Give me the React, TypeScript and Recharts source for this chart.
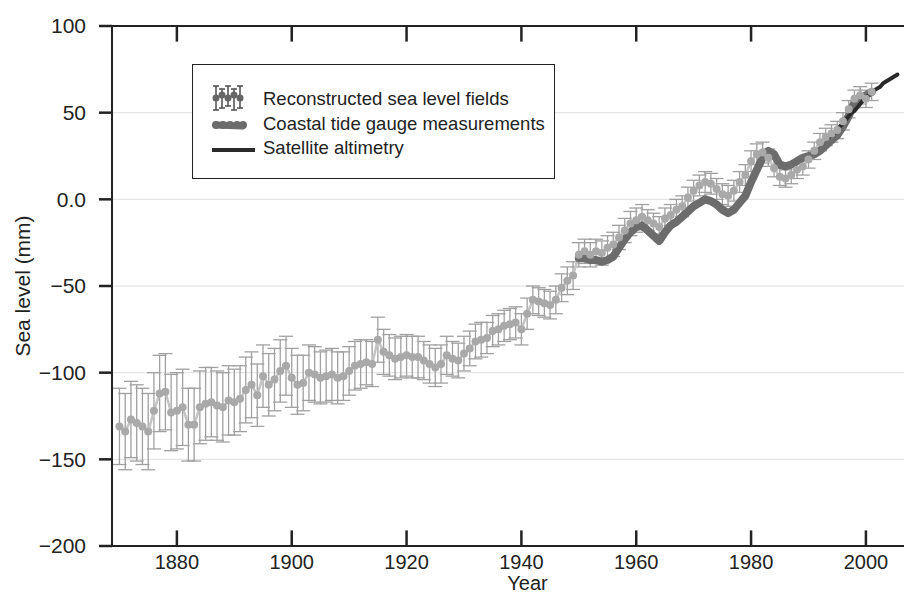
import { ComposedChart, Line, XAxis, YAxis, CartesianGrid, ErrorBar, Legend, ReferenceLine } from 'recharts'

// Reconstructed sea level fields, one value per year from 1870 (mm)
const recStart = 1870
const recValues = [
  -131, -134, -127, -129, -131, -134, -122, -112, -111, -123,
  -122, -120, -130, -130, -120, -118, -117, -119, -120, -116,
  -117, -115, -110, -107, -113, -102, -107, -104, -99, -96,
  -103, -107, -106, -100, -101, -103, -102, -101, -103, -102,
  -99, -96, -95, -94, -95, -81, -88, -90, -92, -91,
  -90, -91, -91, -93, -95, -97, -95, -90, -92, -93,
  -89, -86, -82, -81, -80, -76, -75, -73, -72, -71,
  -75, -66, -58, -59, -60, -61, -58, -51, -47, -44,
  -32, -30, -32, -30, -31, -28, -26, -22, -18, -14,
  -12, -10, -12, -14, -16, -11, -9, -6, -4, 1,
  5, 8, 10, 9, 6, 3, 2, 5, 10, 14,
  22, 26, 27, 24, 18, 13, 12, 14, 17, 19,
  23, 28, 33, 36, 38, 40, 45, 52, 58, 60,
  58, 62,
]
// half width of the error bars (mm)
const recErrors = [
  22, 22, 22, 22, 22, 22, 22, 22, 22, 22,
  22, 22, 21, 21, 21, 21, 20, 20, 20, 20,
  19, 19, 19, 19, 18, 18, 18, 18, 18, 17,
  17, 17, 16, 16, 16, 15, 15, 15, 15, 14,
  14, 14, 14, 13, 13, 13, 13, 12, 12, 12,
  12, 12, 12, 11, 11, 11, 11, 11, 10, 10,
  10, 10, 10, 10, 9, 9, 9, 9, 9, 9,
  9, 9, 8, 8, 8, 8, 8, 8, 8, 8,
  7, 7, 7, 7, 7, 7, 7, 7, 7, 7,
  7, 7, 6, 6, 6, 6, 6, 6, 6, 6,
  6, 6, 6, 6, 6, 6, 6, 6, 6, 6,
  6, 6, 6, 5, 5, 5, 5, 5, 5, 5,
  5, 5, 5, 5, 5, 5, 5, 5, 5, 5,
  5, 5,
]

// Coastal tide gauge measurements, yearly from 1950 (mm)
const gaugeStart = 1950
const gaugeValues = [
  -34, -34, -35, -35, -36, -35, -33, -28, -23, -19,
  -16, -15, -18, -21, -24, -19, -15, -13, -10, -7,
  -4, -2, 0, -1, -3, -6, -8, -6, -2, 2,
  10, 17, 24, 28, 26, 20, 19, 20, 22, 24,
  25, 26, 28, 31, 34, 37, 42, 48, 56, 59,
  60, 62,
]

// Satellite altimetry (mm)
const satYears = [
  1993, 1993.5, 1994, 1994.5, 1995, 1995.5, 1996, 1996.5, 1997, 1997.5,
  1998, 1998.5, 1999, 1999.5, 2000, 2000.5, 2001, 2001.5, 2002, 2002.5,
  2003, 2003.5, 2004, 2004.5, 2005, 2005.5,
]
const satValues = [
  35, 36, 37, 38, 40, 42, 44, 46, 48, 50,
  51, 53, 55, 57, 59, 60, 62, 63, 64, 65,
  67, 68, 69, 70, 71, 72,
]

const yearTicks = [1880, 1900, 1920, 1940, 1960, 1980, 2000]
const levelTicks = [-200, -150, -100, -50, 0, 50, 100]
const yearDomain = [1868.7, 2008.2]
const levelDomain = [-200, 100]

const recData = recValues.map((v, i) => ({ year: recStart + i, rec: v, err: recErrors[i] }))
const gaugeData = gaugeValues.map((v, i) => ({ year: gaugeStart + i, gauge: v }))
const satData = satYears.map((y, i) => ({ year: y, sat: satValues[i] }))

const FONT = '"Liberation Sans", Arial, Helvetica, sans-serif'
const INK = '#222'
const REC = '#a9a9a9'
const GAUGE = '#6c6c6c'
const SAT = '#2a2a2a'
const TICK_LEN = 9 // inward tick length, in mm of the y scale

const formatLevel = (v: number) => (v === 0 ? '0.0' : v < 0 ? '\u2212' + Math.abs(v) : String(v))

function LegendBox() {
  const row = { position: 'absolute' as const, left: 70, whiteSpace: 'nowrap' as const, lineHeight: '20px' }
  return (
    <div
      style={{
        position: 'relative',
        width: 363,
        height: 115,
        boxSizing: 'border-box',
        border: `1.5px solid ${INK}`,
        background: '#fff',
        fontFamily: FONT,
        fontSize: 18.5,
        color: INK,
      }}
    >
      <svg width={363} height={115} style={{ position: 'absolute', left: -1.5, top: -1.5 }}>
        {[24, 30, 36, 42, 48].map((x, i) => (
          <g key={x} stroke="#555" strokeWidth={1.6}>
            <line x1={x} x2={x} y1={22 + (i % 2) * 3} y2={46 - (i % 3) * 2} />
            <line x1={x - 3} x2={x + 3} y1={22 + (i % 2) * 3} y2={22 + (i % 2) * 3} />
            <line x1={x - 3} x2={x + 3} y1={46 - (i % 3) * 2} y2={46 - (i % 3) * 2} />
            <circle cx={x} cy={34 - (i % 2) * 3} r={3.5} fill="#666" stroke="none" />
          </g>
        ))}
        <line x1={24} x2={50} y1={61} y2={62} stroke={GAUGE} strokeWidth={7} strokeLinecap="round" />
        {[24, 31, 38, 45, 51].map((x) => (
          <circle key={x} cx={x} cy={61} r={4} fill={GAUGE} />
        ))}
        <line x1={20} x2={63} y1={86} y2={86} stroke={SAT} strokeWidth={4} />
      </svg>
      <div style={{ ...row, top: 24 }}>Reconstructed sea level fields</div>
      <div style={{ ...row, top: 49 }}>Coastal tide gauge measurements</div>
      <div style={{ ...row, top: 73 }}>Satellite altimetry</div>
    </div>
  )
}

export default function App() {
  return (
    <div style={{ width: 904, height: 588, overflow: 'hidden', background: '#fff' }}>
      <ComposedChart data={recData} width={905} height={588} margin={{ top: 18, right: 0, bottom: 0, left: 0 }}>
        <CartesianGrid vertical={false} stroke="#e0e0e0" />
        <XAxis
          dataKey="year"
          type="number"
          domain={yearDomain}
          allowDataOverflow
          ticks={yearTicks}
          height={50}
          tickSize={0}
          tickMargin={9}
          tickLine={false}
          tick={{ fill: INK, fontSize: 20, fontFamily: FONT }}
          axisLine={{ stroke: INK, strokeWidth: 2 }}
          label={{ value: 'Year', position: 'insideBottom', offset: 6, dx: 15, fill: INK, fontSize: 20, fontFamily: FONT }}
        />
        <YAxis
          type="number"
          domain={levelDomain}
          allowDataOverflow
          ticks={levelTicks}
          width={104}
          tickSize={13}
          tickMargin={13}
          tickFormatter={formatLevel}
          tick={{ fill: INK, fontSize: 21, fontFamily: FONT }}
          tickLine={{ stroke: INK, strokeWidth: 2.5 }}
          axisLine={{ stroke: INK, strokeWidth: 2 }}
          label={{
            value: 'Sea level (mm)',
            angle: -90,
            position: 'insideLeft',
            offset: 15,
            fill: INK,
            fontSize: 21,
            fontFamily: FONT,
            style: { textAnchor: 'middle' },
          }}
        />
        <Legend
          layout="vertical"
          align="center"
          verticalAlign="middle"
          content={() => <LegendBox />}
          wrapperStyle={{ position: 'absolute', left: 184, top: 56, width: 363, height: 115 }}
        />

        {/* frame: top edge and inward year ticks at top and bottom */}
        <ReferenceLine y={levelDomain[1]} stroke={INK} strokeWidth={2} ifOverflow="visible" />
        {yearTicks.map((yr) => (
          <ReferenceLine
            key={`b${yr}`}
            segment={[{ x: yr, y: levelDomain[0] }, { x: yr, y: levelDomain[0] + TICK_LEN }]}
            stroke={INK}
            strokeWidth={2.5}
            ifOverflow="visible"
          />
        ))}
        {yearTicks.map((yr) => (
          <ReferenceLine
            key={`t${yr}`}
            segment={[{ x: yr, y: levelDomain[1] }, { x: yr, y: levelDomain[1] - TICK_LEN }]}
            stroke={INK}
            strokeWidth={2.5}
            ifOverflow="visible"
          />
        ))}

        <Line
          dataKey="rec"
          name="Reconstructed sea level fields"
          stroke="#c4c4c4"
          strokeWidth={2.5}
          dot={{ r: 4, fill: REC, stroke: 'none' }}
          isAnimationActive={false}
        >
          <ErrorBar dataKey="err" direction="y" width={7} stroke="#a0a0a0" strokeWidth={1.3} />
        </Line>
        <Line
          data={gaugeData}
          dataKey="gauge"
          name="Coastal tide gauge measurements"
          stroke={GAUGE}
          strokeWidth={8}
          strokeLinejoin="round"
          strokeLinecap="round"
          dot={false}
          isAnimationActive={false}
        />
        <Line
          data={satData}
          dataKey="sat"
          name="Satellite altimetry"
          stroke={SAT}
          strokeWidth={4}
          strokeLinecap="round"
          dot={false}
          isAnimationActive={false}
        />
      </ComposedChart>
    </div>
  )
}
